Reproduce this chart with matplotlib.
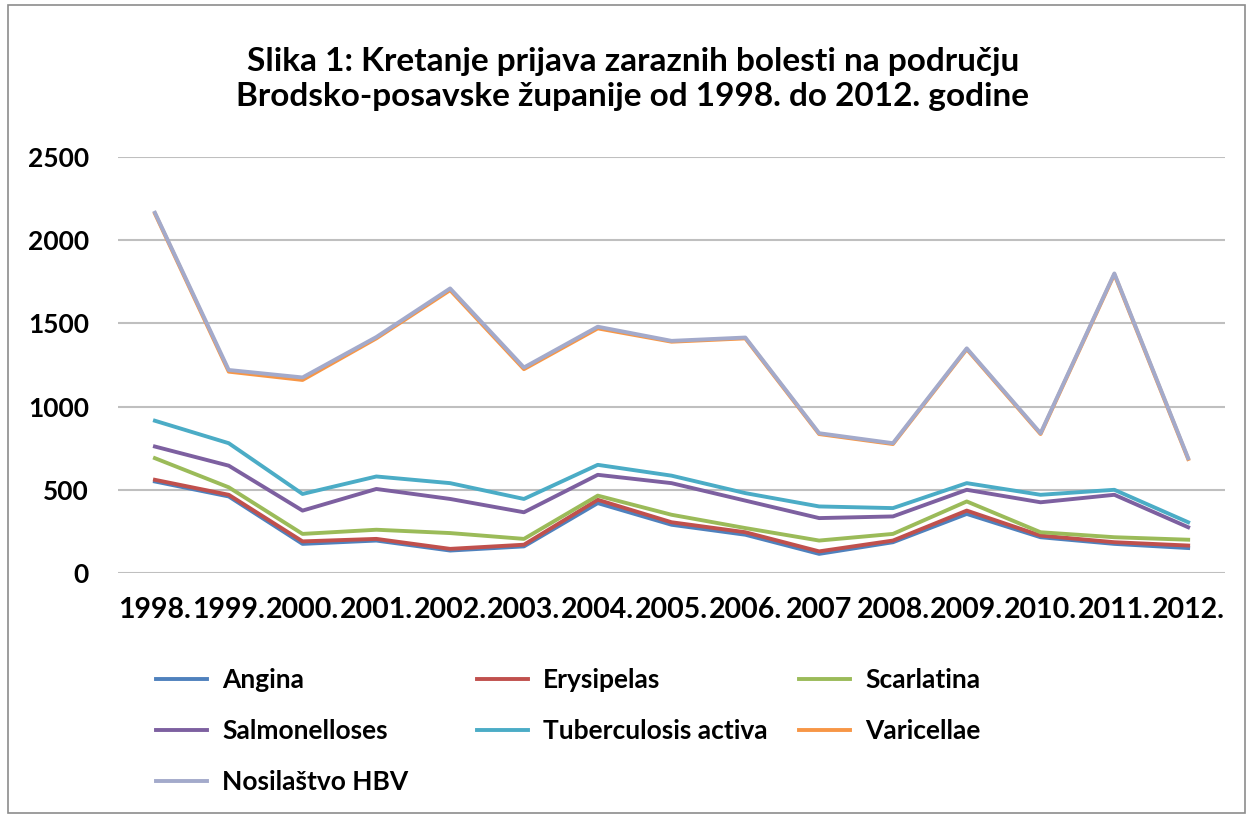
import matplotlib.pyplot as plt
from matplotlib.patches import Rectangle

years = ['1998.', '1999.', '2000.', '2001.', '2002.', '2003.', '2004.', '2005.',
         '2006.', '2007', '2008.', '2009.', '2010.', '2011.', '2012.']

angina = [550, 460, 175, 195, 135, 160, 420, 290, 230, 115, 185, 355, 215, 175, 150]
erysipelas = [560, 470, 190, 205, 145, 170, 440, 305, 245, 130, 195, 375, 225, 185, 165]
scarlatina = [690, 515, 235, 260, 240, 205, 465, 350, 270, 195, 235, 430, 245, 215, 200]
salmonelloses = [760, 645, 375, 505, 445, 365, 590, 540, 435, 330, 340, 500, 425, 470, 275]
tuberculosis = [915, 780, 475, 580, 540, 445, 650, 585, 480, 400, 390, 540, 470, 500, 305]
varicellae = [2160, 1210, 1160, 1410, 1700, 1225, 1470, 1390, 1410, 835, 775, 1345, 835, 1795, 685]
hbv = [2165, 1220, 1175, 1418, 1710, 1235, 1480, 1395, 1415, 840, 780, 1350, 840, 1800, 690]

series = [
    ('Angina', angina, '#4F81BD'),
    ('Erysipelas', erysipelas, '#C0504D'),
    ('Scarlatina', scarlatina, '#9BBB59'),
    ('Salmonelloses', salmonelloses, '#7D60A0'),
    ('Tuberculosis activa', tuberculosis, '#4BACC6'),
    ('Varicellae', varicellae, '#F79646'),
    ('Nosilaštvo HBV', hbv, '#A3AACB'),
]

plt.rcParams['font.family'] = ['Lato', 'DejaVu Sans']
plt.rcParams['font.weight'] = 'bold'

fig = plt.figure(figsize=(12.53, 8.18), dpi=100)
ax = fig.add_axes([0.0942, 0.2995, 0.8835, 0.5086])

x = list(range(len(years)))
lines = []
for name, vals, col in series:
    ln, = ax.plot(x, vals, color=col, lw=2.8, label=name)
    lines.append(ln)

ax.set_xlim(-0.5, len(years) - 0.5)
ax.set_ylim(0, 2500)
ax.set_yticks(range(0, 2501, 500))
ax.set_xticks(x)
ax.set_xticklabels(years)
ax.grid(axis='y', color='#BFBFBF', lw=1.5)
ax.set_axisbelow(True)
for s in ax.spines.values():
    s.set_visible(False)
ax.tick_params(axis='both', length=0)
ax.tick_params(axis='y', labelsize=19, pad=21)
ax.tick_params(axis='x', labelsize=20.5, pad=17)

fig.text(0.505, 0.903, 'Slika 1: Kretanje prijava zaraznih bolesti na području\n'
         'Brodsko-posavske županije od 1998. do 2012. godine',
         ha='center', va='center', fontsize=24, fontweight='bold', linespacing=1.25)

# legend laid out row by row, one legend per column
cols = [[0, 3, 6], [1, 4], [2, 5]]
col_x = [156, 477, 799]
for idx, cx in zip(cols, col_x):
    leg = fig.legend([lines[i] for i in idx], [series[i][0] for i in idx],
                     loc='upper left', bbox_to_anchor=(cx / 1253, 0.183),
                     frameon=False, fontsize=19, handlelength=1.95,
                     handletextpad=0.55, labelspacing=1.02, borderpad=0,
                     borderaxespad=0)

fig.patches.append(Rectangle((0.006, 0.006), 0.988, 0.988, transform=fig.transFigure,
                             fill=False, edgecolor='#8C8C8C', lw=1.2))

fig.savefig('out.png', dpi=100)
